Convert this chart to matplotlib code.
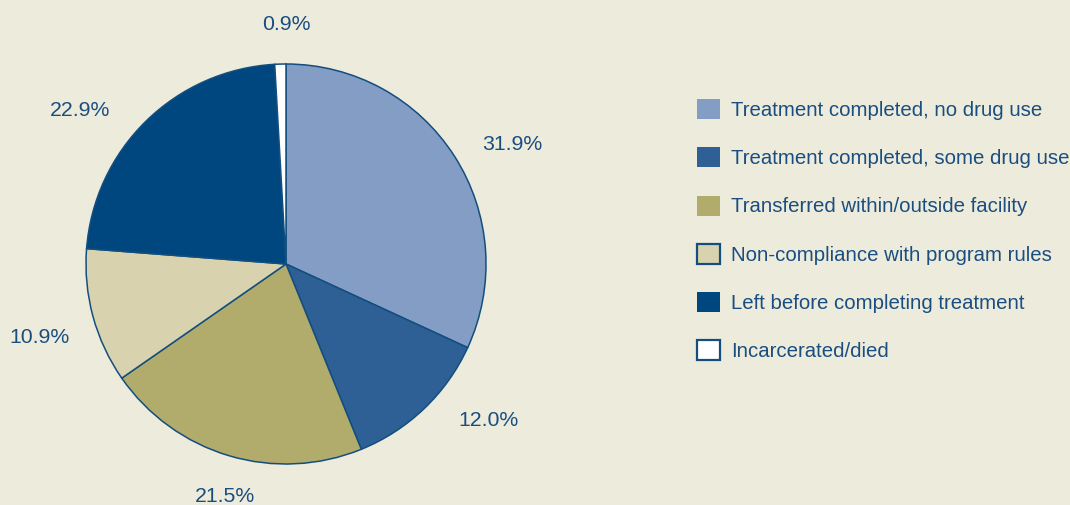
import matplotlib
matplotlib.use("Agg")
import matplotlib.pyplot as plt
from matplotlib.patches import Patch
import numpy as np

categories = [
    "Treatment completed, no drug use",
    "Treatment completed, some drug use",
    "Transferred within/outside facility",
    "Non-compliance with program rules",
    "Left before completing treatment",
    "Incarcerated/died",
]
values = [31.9, 12.0, 21.5, 10.9, 22.9, 0.9]
value_labels = ["31.9%", "12.0%", "21.5%", "10.9%", "22.9%", "0.9%"]

colors = ["#839DC4", "#2E6096", "#B1AB6C", "#D8D3AE", "#00467F", "#FFFFFF"]
legend_edged = [False, False, False, True, False, True]
label_shift_deg = [-4.8, 8.5, 1.8, 1.5, 9, -1.6]
label_dist = [1.28, 1.28, 1.2, 1.285, 1.285, 1.2]

bg = "#EDEBDC"
edge = "#134E7F"
text_color = "#1A4E80"
plt.rcParams["font.family"] = ["Liberation Sans", "DejaVu Sans"]

W, H = 1070, 505
fig = plt.figure(figsize=(W / 100, H / 100), dpi=100, facecolor=bg)
cx, cy, r = 286, 264, 200
ax = fig.add_axes([(cx - r) / W, (H - cy - r) / H, 2 * r / W, 2 * r / H])
ax.set_facecolor(bg)

wedges, _ = ax.pie(values, colors=colors, startangle=90, counterclock=False,
                   wedgeprops=dict(edgecolor=edge, linewidth=1.1), radius=1.0)
ax.set_xlim(-1, 1)
ax.set_ylim(-1, 1)
ax.set_aspect("equal")
ax.axis("off")

total = sum(values)
cum = 0.0
for v, lab, sh, d in zip(values, value_labels, label_shift_deg, label_dist):
    mid = 90 - (cum + v / 2) / total * 360 + sh
    cum += v
    ax.text(d * np.cos(np.radians(mid)), d * np.sin(np.radians(mid)), lab,
            ha="center", va="center", fontsize=15.3, color=text_color, clip_on=False)

handles = [Patch(facecolor=c, edgecolor=(edge if e else c), linewidth=(1.6 if e else 0))
           for c, e in zip(colors, legend_edged)]
fs = 14.7
fig.legend(handles, categories, loc="upper left",
           bbox_to_anchor=(697 / W, 1 - 99 / H), frameon=False, fontsize=fs,
           handlelength=1.13, handleheight=1.13, handletextpad=0.55,
           labelspacing=1.34, borderpad=0, borderaxespad=0, labelcolor=text_color)

fig.savefig("out.png", dpi=100, facecolor=bg)
